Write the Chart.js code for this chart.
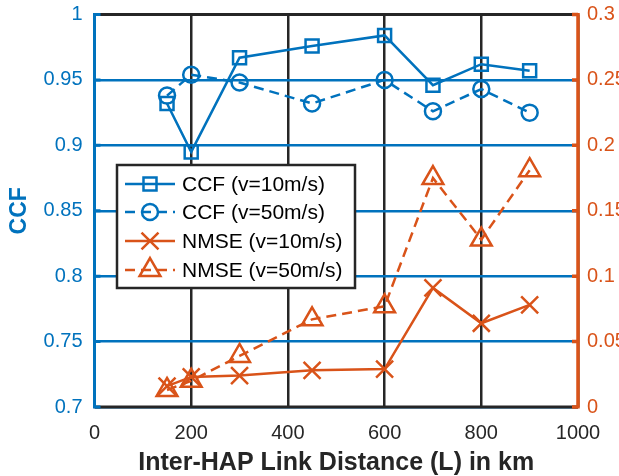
<!DOCTYPE html>
<html>
<head>
<meta charset="utf-8">
<script src="https://cdn.jsdelivr.net/npm/chart.js@4.4.1/dist/chart.umd.min.js"></script>
<style>
html, body { margin: 0; padding: 0; background: #fff; overflow: hidden; }
#wrap { width: 640px; height: 476px; }
</style>
</head>
<body>
<div id="wrap"><canvas id="myChart" width="640" height="476"></canvas></div>
<script>
// values
var distances = [150, 200, 300, 450, 600, 700, 800, 900];
var ccf10 = [0.932, 0.895, 0.967, 0.976, 0.984, 0.946, 0.962, 0.957];
var ccf50 = [0.938, 0.954, 0.948, 0.932, 0.950, 0.926, 0.943, 0.925];
var nmse10 = [0.016, 0.023, 0.024, 0.028, 0.029, 0.091, 0.064, 0.078];
var nmse50 = [0.013, 0.020, 0.039, 0.067, 0.077, 0.175, 0.128, 0.181];

var xTicks = [0, 200, 400, 600, 800, 1000];
var ccfTicks = [0.7, 0.75, 0.8, 0.85, 0.9, 0.95, 1];
var nmseTicks = [0, 0.05, 0.1, 0.15, 0.2, 0.25, 0.3];
var seriesNames = ['CCF (v=10m/s)', 'CCF (v=50m/s)', 'NMSE (v=10m/s)', 'NMSE (v=50m/s)'];

var blue = '#0072BD';
var orange = '#D95319';
var dark = '#262626';
var fontName = '"Liberation Sans", Arial, sans-serif';

function pts(ys) {
    return distances.map(function(d, i) { return {x: d, y: ys[i]}; });
}
function fmt(v) { return String(+Number(v).toFixed(2)); }
function setTicks(list) {
    return function(scale) {
        scale.ticks = list.map(function(v) { return {value: v}; });
    };
}
function fixSize(w, h) {
    return function(s) {
        if (w) s.width = w;
        if (h) s.height = h;
        s.paddingTop = 0; s.paddingBottom = 0;
        s.paddingLeft = 0; s.paddingRight = 0;
    };
}

function series(label, ys, color, axis, style, radius, dashed) {
    return {
        label: label,
        data: pts(ys),
        yAxisID: axis,
        borderColor: color,
        backgroundColor: 'rgba(0,0,0,0)',
        borderWidth: 2.5,
        borderDash: dashed ? [10, 6] : [],
        pointStyle: style,
        pointRadius: radius,
        pointBorderWidth: 2.5,
        pointBorderColor: color,
        pointBackgroundColor: 'rgba(0,0,0,0)',
        tension: 0
    };
}

var datasets = [
    series(seriesNames[0], ccf10, blue, 'y', 'rect', 9.2, false),
    series(seriesNames[1], ccf50, blue, 'y', 'circle', 8, true),
    series(seriesNames[2], nmse10, orange, 'y1', 'crossRot', 12, false),
    series(seriesNames[3], nmse50, orange, 'y1', 'triangle', 12, true)
];

// axes box, inward ticks
var boxPlugin = {
    id: 'box',
    afterDatasetsDraw: function(chart) {
        var c = chart.ctx, a = chart.chartArea;
        var yS = chart.scales.y, y1S = chart.scales.y1;
        c.save();
        c.lineCap = 'butt';
        c.lineWidth = 3;
        c.strokeStyle = dark;
        c.beginPath();
        c.moveTo(a.left, a.top); c.lineTo(a.right, a.top);
        c.moveTo(a.left, a.bottom); c.lineTo(a.right, a.bottom);
        c.stroke();
        c.strokeStyle = blue;
        c.beginPath();
        c.moveTo(a.left, a.top - 1.5); c.lineTo(a.left, a.bottom + 1.5);
        ccfTicks.forEach(function(v) {
            var y = yS.getPixelForValue(v);
            c.moveTo(a.left, y); c.lineTo(a.left + 6, y);
        });
        c.stroke();
        c.strokeStyle = orange;
        c.lineWidth = 3.5;
        c.beginPath();
        c.moveTo(a.right, a.top - 1.5); c.lineTo(a.right, a.bottom + 1.5);
        nmseTicks.forEach(function(v) {
            var y = y1S.getPixelForValue(v);
            c.moveTo(a.right, y); c.lineTo(a.right - 6, y);
        });
        c.stroke();
        c.restore();
    }
};

function marker(c, ds, x, y) {
    var opts = {pointStyle: ds.pointStyle, radius: ds.pointRadius, rotation: 0, borderWidth: ds.pointBorderWidth};
    c.strokeStyle = ds.borderColor;
    c.fillStyle = 'rgba(0,0,0,0)';
    c.lineWidth = ds.pointBorderWidth;
    c.setLineDash([]);
    Chart.helpers.drawPoint(c, opts, x, y);
}

// legend box inside the plot
var legendPlugin = {
    id: 'boxLegend',
    afterDraw: function(chart) {
        var c = chart.ctx;
        var bx = 117, by = 165, bw = 238, bh = 123;
        c.save();
        c.fillStyle = '#fff';
        c.fillRect(bx, by, bw, bh);
        c.strokeStyle = dark;
        c.lineWidth = 2.5;
        c.strokeRect(bx, by, bw, bh);
        var rows = [184, 212, 241, 270];
        chart.data.datasets.forEach(function(ds, i) {
            var y = rows[i];
            c.strokeStyle = ds.borderColor;
            c.lineWidth = ds.borderWidth;
            c.setLineDash(ds.borderDash);
            c.beginPath();
            c.moveTo(125, y); c.lineTo(175, y);
            c.stroke();
            marker(c, ds, 150, y);
            c.fillStyle = '#000';
            c.font = '21px ' + fontName;
            c.textAlign = 'left';
            c.textBaseline = 'middle';
            c.fillText(ds.label, 182, y + 1);
        });
        c.restore();
    }
};

var ctx = document.getElementById('myChart').getContext('2d');
var myChart = new Chart(ctx, {
    type: 'line',
    data: {datasets: datasets},
    plugins: [boxPlugin, legendPlugin],
    options: {
        responsive: false,
        animation: false,
        layout: {padding: {left: 0, right: 0, top: 14, bottom: 0}},
        plugins: {legend: {display: false}, tooltip: {enabled: false}},
        scales: {
            x: {
                type: 'linear',
                min: 0, max: 1000,
                afterBuildTicks: setTicks(xTicks),
                afterFit: fixSize(0, 69),
                border: {display: false},
                grid: {color: dark, lineWidth: 2.5, drawTicks: false},
                ticks: {color: dark, padding: 14, font: {family: fontName, size: 20}, callback: fmt},
                title: {display: true, text: 'Inter-HAP Link Distance (L) in km', color: dark,
                        font: {family: fontName, size: 25, weight: 'bold', lineHeight: 1}, padding: {top: 1, bottom: 0}}
            },
            y: {
                position: 'left',
                min: 0.7, max: 1,
                afterBuildTicks: setTicks(ccfTicks),
                afterFit: fixSize(94.5, 0),
                border: {display: false},
                grid: {color: blue, lineWidth: 2.5, drawTicks: false},
                ticks: {color: blue, padding: 12, font: {family: fontName, size: 20}, callback: fmt},
                title: {display: true, text: 'CCF', color: blue,
                        font: {family: fontName, size: 23, weight: 'bold'}, padding: {top: 6, bottom: 0}}
            },
            y1: {
                position: 'right',
                min: 0, max: 0.3,
                afterBuildTicks: setTicks(nmseTicks),
                afterFit: fixSize(62, 0),
                border: {display: false},
                grid: {display: false, drawTicks: false},
                ticks: {color: orange, padding: 9, font: {family: fontName, size: 20}, callback: fmt}
            }
        }
    }
});
</script>
</body>
</html>
